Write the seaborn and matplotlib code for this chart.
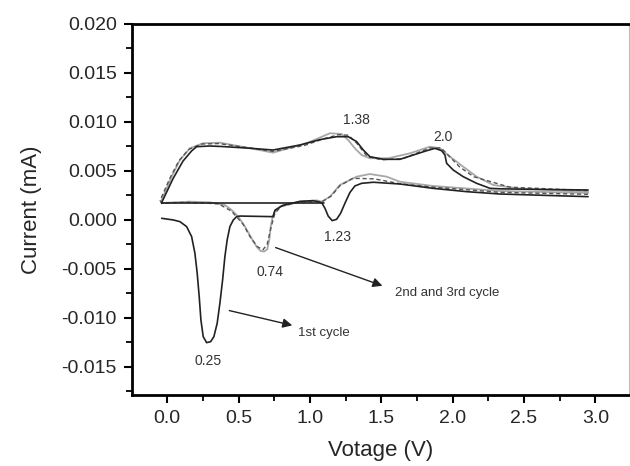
import numpy as np
import pandas as pd
import seaborn as sns
import matplotlib.pyplot as plt
from matplotlib.ticker import MultipleLocator

# cycle 1 (solid black), cathodic sweep
c1_low_v = [-0.039, 0.043, 0.089, 0.136, 0.171, 0.194, 0.210, 0.224, 0.236, 0.252, 0.276,
            0.304, 0.327, 0.350, 0.369, 0.388, 0.404, 0.420, 0.439, 0.463, 0.486, 0.509,
            0.741, 0.755, 0.811, 0.93, 1.023, 1.082, 1.105, 1.128, 1.156, 1.187, 1.215,
            1.245, 1.280, 1.315, 1.362, 1.444, 1.631, 1.862, 2.098, 2.332, 2.949]
c1_low_i = [0.00017, 0.0, -0.00017, -0.00068, -0.0017, -0.0034, -0.00544, -0.00782, -0.0102,
            -0.0119, -0.01252, -0.01242, -0.0119, -0.01054, -0.0085, -0.00612, -0.00374,
            -0.00204, -0.00068, 0.0, 0.00034, 0.0004,
            0.00034, 0.0010, 0.0015, 0.0019, 0.00197, 0.00177, 0.0012, 0.0004, -0.00007,
            0.00007, 0.00068, 0.0017, 0.0028, 0.00347, 0.00374, 0.00385, 0.00367, 0.00323,
            0.00289, 0.00265, 0.00238]
# cycle 1, anodic sweep
c1_up_v = [-0.039, -0.035, 0.04, 0.11, 0.171, 0.206, 0.299, 0.38, 0.58, 0.741, 0.93, 1.07,
           1.187, 1.268, 1.327, 1.374, 1.42, 1.514, 1.631, 1.724, 1.818, 1.876, 1.923,
           1.946, 1.958, 2.004, 2.074, 2.168, 2.262, 2.332, 2.6, 2.949]
c1_up_i = [0.00170, 0.00190, 0.00420, 0.00600, 0.00705, 0.00748, 0.00755, 0.00750, 0.00732,
           0.00714, 0.00765, 0.0082, 0.0085, 0.0085, 0.0080, 0.00714, 0.00646, 0.00619,
           0.00619, 0.00663, 0.00707, 0.00731, 0.00707, 0.00663, 0.00578, 0.0051, 0.00442,
           0.00374, 0.00323, 0.00318, 0.00312, 0.00306]
# straight segment closing the first scan
c1_line_v = [-0.039, 1.10]
c1_line_i = [0.00172, 0.00172]

# cycle 2 (grey)
c2_v = [2.949, 2.332, 1.862, 1.631, 1.537, 1.42, 1.327, 1.21, 1.14, 1.082, 1.047, 0.93,
        0.79, 0.755, 0.739, 0.725, 0.715, 0.701, 0.678, 0.654, 0.626, 0.591, 0.545, 0.498,
        0.451, 0.404, 0.30, 0.159, -0.039,
        -0.045, 0.031, 0.089, 0.159, 0.252, 0.369, 0.58, 0.741, 0.977, 1.14, 1.222,
        1.268, 1.315, 1.362, 1.42, 1.55, 1.70, 1.841, 1.911, 1.981, 2.074, 2.168, 2.285,
        2.472, 2.949]
c2_i = [0.00276, 0.00296, 0.00347, 0.0039, 0.00442, 0.00469, 0.00442, 0.00357, 0.00238,
        0.00187, 0.0020, 0.00187, 0.00136, 0.00085, 0.00034, -0.00068, -0.00204, -0.00299,
        -0.00323, -0.00316, -0.00272, -0.00187, -0.00068, 0.00034, 0.00102, 0.00153,
        0.00180, 0.00187, 0.00173,
        0.00185, 0.00442, 0.00612, 0.00732, 0.00783, 0.00789, 0.00732, 0.00687, 0.00783,
        0.00885, 0.00878, 0.00816, 0.00731, 0.00663, 0.0063, 0.0063, 0.0068, 0.00748,
        0.00731, 0.00646, 0.00544, 0.00442, 0.00357, 0.00320, 0.00291]

# cycle 3 (dark dashed)
c3_v = [2.949, 2.332, 1.862, 1.631, 1.45, 1.30, 1.21, 1.15, 1.09, 0.93, 0.80, 0.755, 0.73,
        0.70, 0.67, 0.63, 0.58, 0.53, 0.45, 0.36, 0.15, -0.04,
        -0.05, 0.02, 0.08, 0.15, 0.24, 0.36, 0.58, 0.74, 0.96, 1.10, 1.20, 1.27, 1.33,
        1.40, 1.50, 1.65, 1.84, 1.92, 1.97, 2.05, 2.15, 2.40, 2.949]
c3_i = [0.00262, 0.00282, 0.00335, 0.0037, 0.00420, 0.00425, 0.00350, 0.00245, 0.00190,
        0.00185, 0.00140, 0.00070, -0.00060, -0.00250, -0.00305, -0.00270, -0.00170,
        -0.00040, 0.00090, 0.00165, 0.00180, 0.00175,
        0.00200, 0.00430, 0.00600, 0.00720, 0.00775, 0.00780, 0.00735, 0.00700, 0.00760,
        0.00830, 0.00870, 0.00865, 0.00780, 0.00650, 0.00615, 0.00625, 0.00735, 0.00735,
        0.00660, 0.00540, 0.00440, 0.00335, 0.00300]

def seg(v, i, cyc, part):
    return pd.DataFrame({"V": v, "I": i, "cycle": cyc, "part": part})

df = pd.concat([
    seg(c1_low_v, c1_low_i, "1", "a"),
    seg(c1_up_v, c1_up_i, "1", "b"),
    seg(c1_line_v, c1_line_i, "1", "c"),
    seg(c2_v, c2_i, "2", "a"),
    seg(c3_v, c3_i, "3", "a"),
], ignore_index=True)

sns.set_style("ticks")
plt.rcParams['font.family'] = ['Liberation Sans', 'DejaVu Sans']

fig = plt.figure(figsize=(6.3, 4.66), dpi=100)
ax = fig.add_axes([0.2095, 0.1524, 0.7885, 0.7961])

sns.lineplot(data=df[df.cycle == "2"], x="V", y="I", sort=False, estimator=None,
             color="#a8a8a8", lw=1.3, ax=ax)
sns.lineplot(data=df[df.cycle == "3"], x="V", y="I", sort=False, estimator=None,
             color="#555555", lw=1.0, ax=ax)
ax.lines[-1].set_dashes([3, 2])
sns.lineplot(data=df[df.cycle == "1"], x="V", y="I", units="part", sort=False,
             estimator=None, color="#222222", lw=1.2, ax=ax)

ax.set_xlim(-0.247, 3.234)
ax.set_ylim(-0.01786, 0.020)
ax.xaxis.set_major_locator(MultipleLocator(0.5))
ax.xaxis.set_minor_locator(MultipleLocator(0.25))
ax.yaxis.set_major_locator(MultipleLocator(0.005))
ax.yaxis.set_minor_locator(MultipleLocator(0.0025))
ax.xaxis.set_major_formatter(plt.FuncFormatter(lambda v, p: f"{v:.1f}"))
ax.yaxis.set_major_formatter(plt.FuncFormatter(lambda v, p: f"{v:.3f}"))
ax.tick_params(which="major", length=6, width=1.5, labelsize=14, color="k", pad=5)
ax.tick_params(which="minor", length=4, width=1.3, color="k")
ax.tick_params(axis="x", top=False)
ax.tick_params(axis="y", right=False)

for s in ["left", "bottom", "top"]:
    ax.spines[s].set_linewidth(2)
    ax.spines[s].set_color("k")
ax.spines["right"].set_linewidth(0.8)
ax.spines["right"].set_color("#bbbbbb")

ax.set_xlabel("Votage (V)", fontsize=16, labelpad=9)
ax.set_ylabel("Current (mA)", fontsize=16, labelpad=14)

tc = "#333333"
ax.text(1.327, 0.0102, "1.38", fontsize=10, color=tc, ha="center", va="center")
ax.text(1.932, 0.0085, "2.0", fontsize=10, color=tc, ha="center", va="center")
ax.text(1.196, -0.0017, "1.23", fontsize=10, color=tc, ha="center", va="center")
ax.text(0.72, -0.00528, "0.74", fontsize=10, color=tc, ha="center", va="center")
ax.text(0.285, -0.01436, "0.25", fontsize=10, color=tc, ha="center", va="center")

arrow = dict(arrowstyle="-|>", color="#222222", lw=1.0, mutation_scale=14)
ax.annotate("", xy=(1.526, -0.00681), xytext=(0.741, -0.00272), arrowprops=arrow)
ax.annotate("", xy=(0.895, -0.01082), xytext=(0.416, -0.00918), arrowprops=arrow)
ax.text(1.595, -0.00745, "2nd and 3rd cycle", fontsize=9.5, color=tc, ha="left", va="center")
ax.text(0.916, -0.01153, "1st cycle", fontsize=9.5, color=tc, ha="left", va="center")

fig.savefig("out.png", dpi=100)
